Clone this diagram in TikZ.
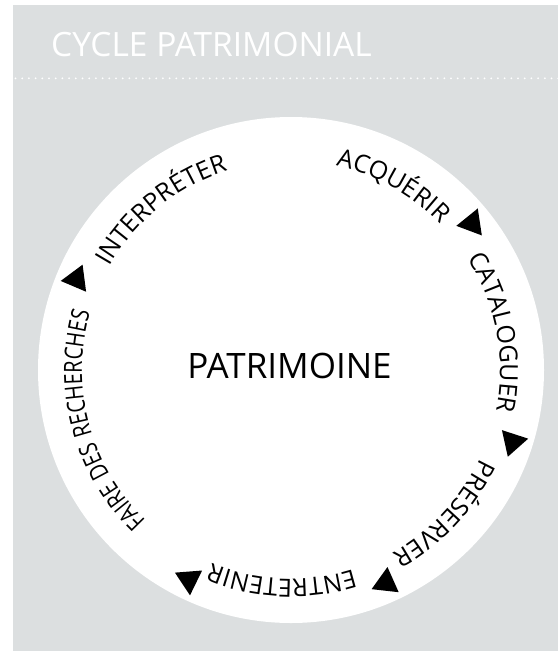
\documentclass[tikz,border=0pt]{standalone}
\usepackage{fontspec}
\setmainfont{Open Sans}
\newfontfamily\narrowfam[FakeStretch=0.8]{Open Sans}
\usetikzlibrary{decorations.text}
\definecolor{panelgray}{HTML}{DCDFE0}
\newcommand{\lblfont}{\fontsize{25}{25}\selectfont}
\newcommand{\narrowlblfont}{\narrowfam\fontsize{25}{25}\selectfont}
\newcommand{\wordgap}{\hspace*{7pt}}
\tikzset{
  panel/.style={fill=panelgray, draw=none},
  disc/.style={fill=white, draw=none},
  arrowtri/.style={fill=black, draw=none},
  whitedot/.style={fill=white, draw=none},
  arclabel/.style={decorate, decoration={text along path, text align=center, text={|\lblfont|#1}}},
  narrowlabel/.style={decorate, decoration={text along path, text align=center, text={|\narrowlblfont|#1}}}
}
\begin{document}
\begin{tikzpicture}[x=1pt,y=1pt]
\useasboundingbox (0,0) rectangle (558,-659);
\path[panel] (12.7,-5) rectangle (558,-651);
\node[anchor=base west, inner sep=0pt, text=white, font=\fontsize{33.5}{33.5}\selectfont] (title) at (51,-56) {CYCLE PATRIMONIAL};
% dotted separator
\foreach \i in {0,...,81}{
  \path[whitedot] (15.5+\i*6.7,-78.3) circle[radius=1.0];
}
\coordinate (c) at (291,-370);
\path[disc] (c) circle[radius=253];
\node[inner sep=0pt, font=\fontsize{35}{35}\selectfont] (core) at (289.5,-365.5) {PATRIMOINE};
% labels along circle (clockwise, tops outward)
\path[arclabel={ACQUÉRIR}] (c) ++(101:209) arc[start angle=101, end angle=21, radius=209];
\path[arclabel={CATALOGUER}] (c) ++(50.5:209) arc[start angle=50.5, end angle=-29.5, radius=209];
\path[arclabel={PRÉSERVER}] (c) ++(-3:209) arc[start angle=-3, end angle=-83, radius=209];
\path[arclabel={ENTRETENIR}] (c) ++(-52.5:209) arc[start angle=-52.5, end angle=-132.5, radius=209];
\path[narrowlabel={FAIRE{\wordgap}DES{\wordgap}RECHERCHES}] (c) ++(-115:209) arc[start angle=-115, end angle=-215, radius=209];
\path[arclabel={INTERPRÉTER}] (c) ++(169:209) arc[start angle=169, end angle=89, radius=209];
% arrows pointing clockwise
\foreach \a/\n in {39/t1,-18/t2,-66/t3,-116/t4,157/t5}{
  \path (c) ++(\a:233) coordinate (\n);
  \begin{scope}[shift={(\n)}, rotate=\a-90]
    \path[arrowtri] (15.5,0) -- (-8,13.8) -- (-8,-13.8) -- cycle;
  \end{scope}
}
\end{tikzpicture}
\end{document}
